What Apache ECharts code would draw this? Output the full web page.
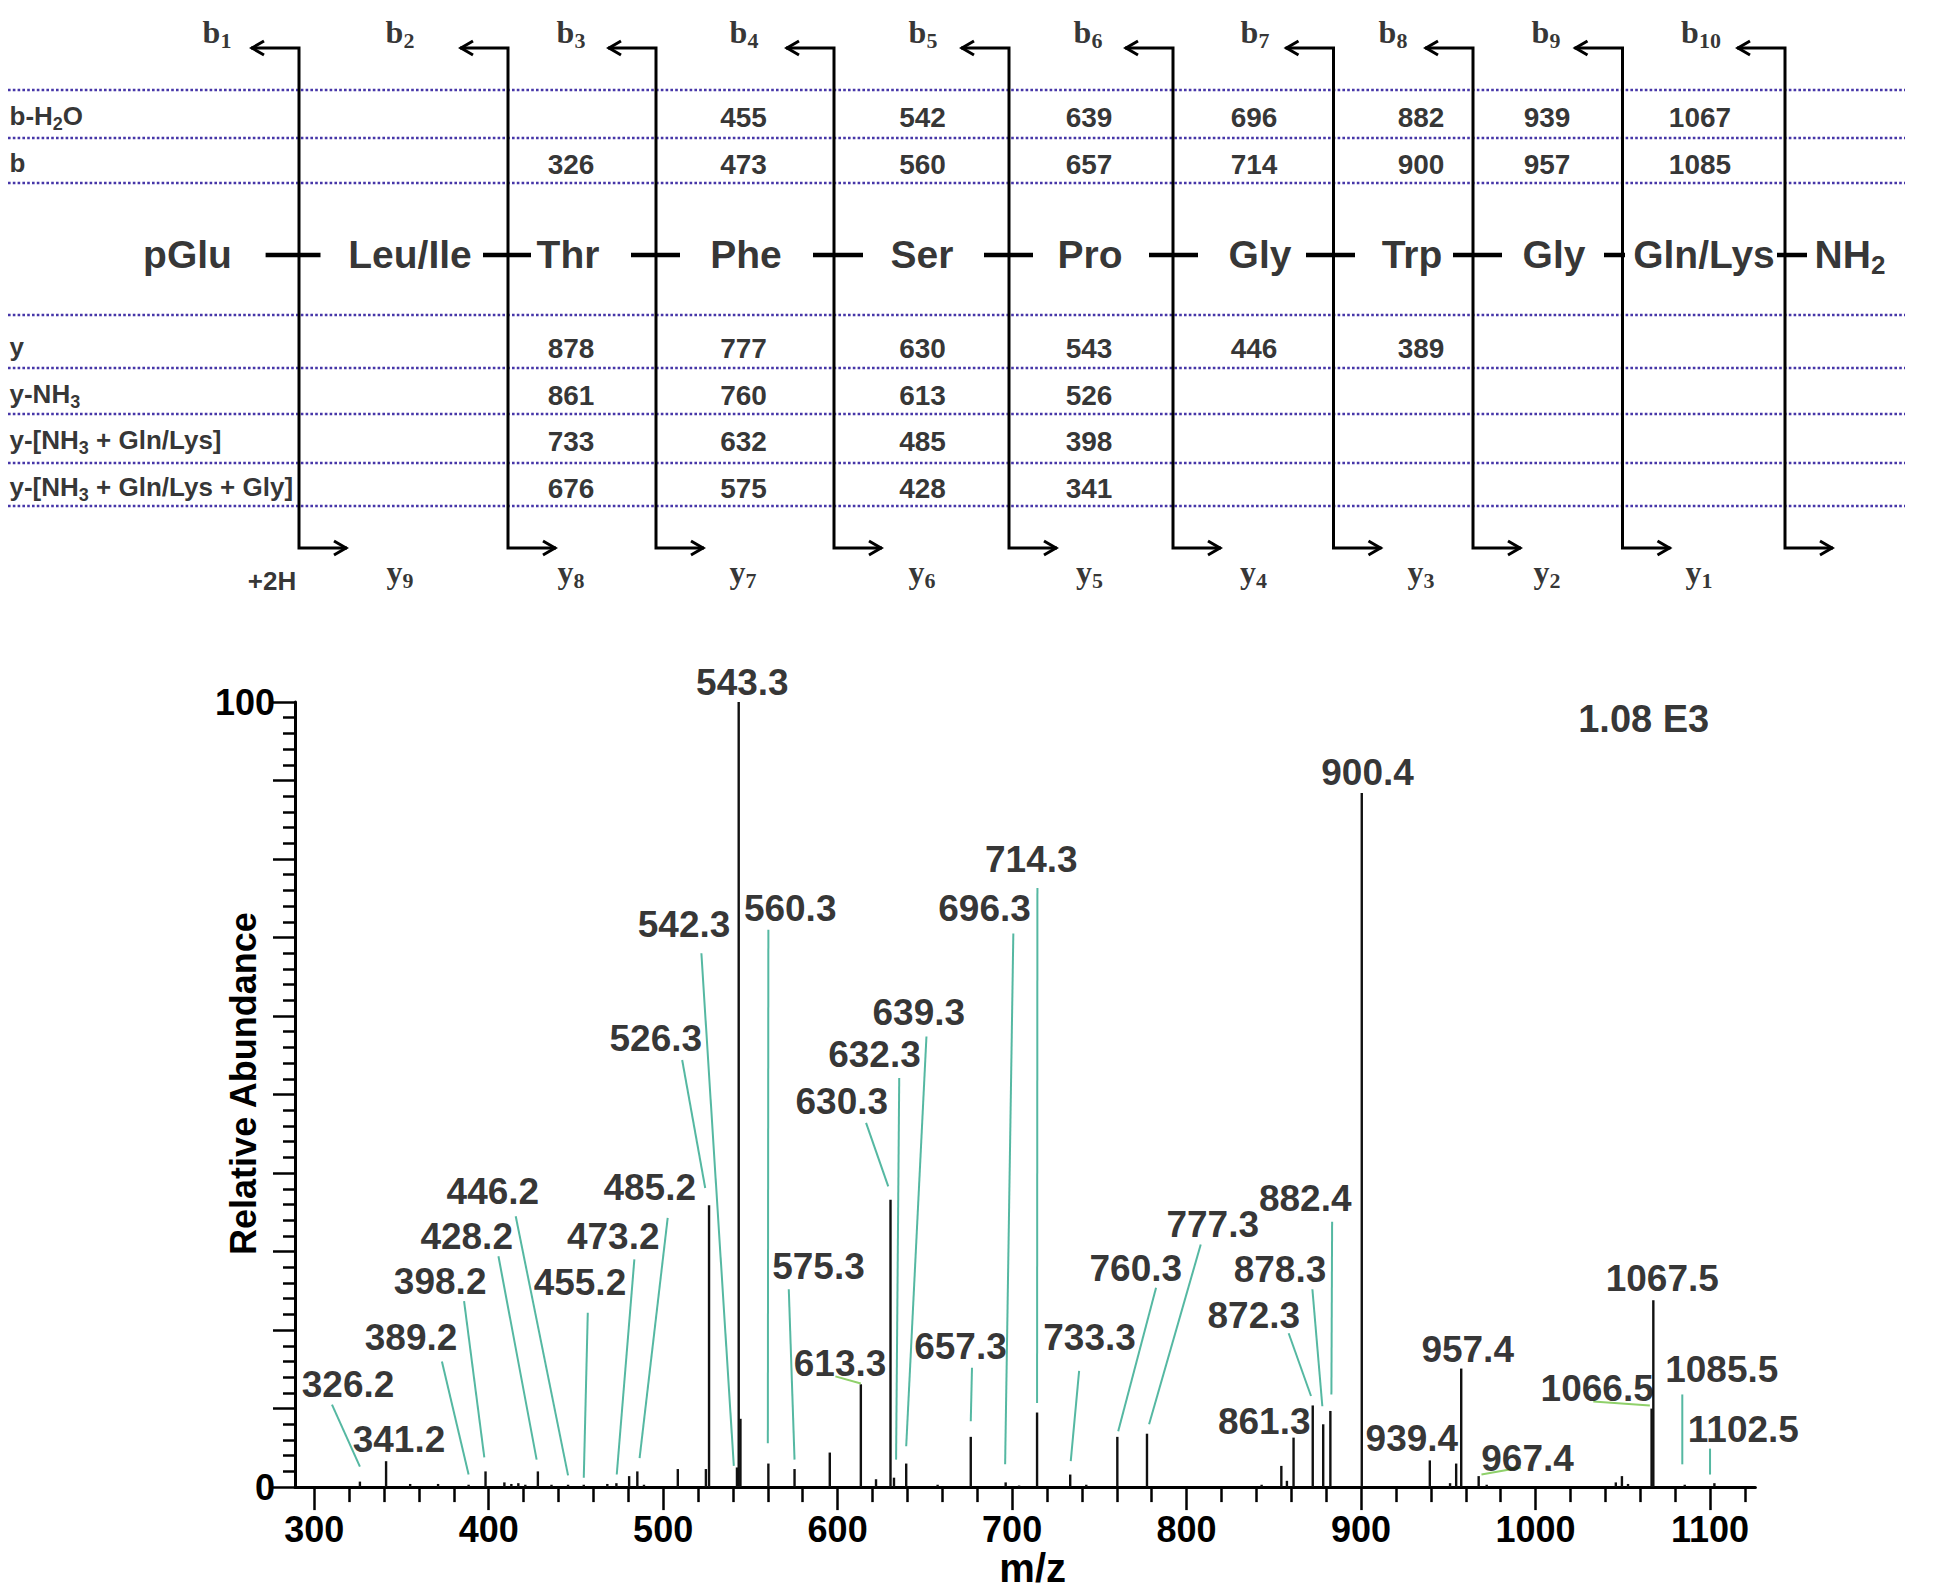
<!DOCTYPE html>
<html><head><meta charset="utf-8">
<script src="https://cdn.jsdelivr.net/npm/echarts@6/dist/echarts.min.js"></script>
<style>html,body{margin:0;padding:0;background:#fff;overflow:hidden}#chart{width:1950px;height:1589px}</style>
</head><body><div id="chart"></div>
<script>
// ================= Spectrum data =================
const peakMz = [326.2, 341.2, 355, 371, 388.5, 398.2, 409, 413, 417, 421, 428.2, 436, 445.5, 454.5, 468, 473.2, 480.5, 485.2, 489, 508.4, 524.5, 526.3, 542.3, 543.3, 544.3, 560.3, 575.3, 595.5, 613.3, 622, 630.3, 632.3, 639.3, 657.3, 676.3, 696.3, 704, 714.3, 733.3, 742.5, 760.3, 777.3, 843, 854.3, 857.5, 861.3, 872.3, 878.3, 882.4, 900.4, 939.4, 951, 954.5, 957.4, 967.4, 972, 1046, 1049.5, 1053, 1066.5, 1067.5, 1085.5, 1102.5];
const peakAb = [0.7, 3.3, 0.4, 0.4, 0.3, 2.0, 0.6, 0.4, 0.5, 0.3, 2.0, 0.3, 0.3, 0.3, 0.4, 0.5, 1.4, 2.0, 0.3, 2.3, 2.3, 35.9, 2.5, 100, 8.7, 3.0, 2.3, 4.4, 13.1, 1.0, 36.6, 1.2, 3.0, 0.3, 6.4, 0.6, 0.2, 9.5, 1.6, 0.3, 6.4, 6.8, 0.3, 2.7, 0.8, 6.3, 10.4, 8.0, 9.7, 88.4, 3.4, 0.5, 3.0, 15.1, 1.4, 0.3, 0.6, 1.4, 0.4, 10.0, 23.8, 0.3, 0.5];

const labelText = ['326.2','341.2','389.2','398.2','428.2','446.2','455.2','473.2','485.2','526.3','542.3','543.3','560.3','575.3','613.3','630.3','632.3','639.3','657.3','696.3','714.3','733.3','760.3','777.3','861.3','872.3','878.3','882.4','900.4','939.4','957.4','967.4','1066.5','1067.5','1085.5','1102.5'];
const labelMz = [319.4, 348.6, 355.5, 372.2, 387.4, 402.4, 452.3, 471.4, 492.3, 495.8, 512.0, 545.4, 572.8, 589.0, 601.4, 602.4, 621.1, 646.5, 670.4, 684.2, 711.0, 744.4, 770.9, 815.0, 844.5, 838.5, 853.5, 868.0, 903.7, 929.1, 961.1, 995.4, 1035.3, 1072.6, 1106.7, 1119.1];
const labelAb = [13.1, 6.1, 19.1, 26.2, 31.9, 37.7, 26.1, 31.9, 38.1, 57.2, 71.6, 102.5, 73.7, 28.1, 15.8, 49.1, 55.1, 60.4, 17.9, 73.7, 79.9, 19.0, 27.9, 33.4, 8.4, 21.8, 27.7, 36.8, 91.0, 6.2, 17.5, 3.7, 12.6, 26.6, 15.0, 7.3];

// leader lines: from (label side) to (peak side); kind 0 = teal, 1 = light green
const leaderFromMz = [310.2, 373.2, 385.9, 405.6, 415.5, 456.8, 483.5, 502.6, 510.9, 521.9, 560.3, 572.0, 598.7, 616.3, 635.3, 650.9, 677.0, 700.7, 714.5, 738.4, 782.5, 808.1, 858.5, 872.1, 883.4, 969.0, 1033.1, 1084.1, 1100.0];
const leaderFromAb = [10.5, 16.0, 23.7, 29.4, 34.5, 22.2, 29.0, 34.3, 54.4, 68.0, 71.0, 25.2, 14.1, 46.4, 52.1, 57.4, 15.2, 70.5, 76.3, 14.8, 25.4, 30.9, 19.6, 25.2, 33.8, 1.6, 10.9, 11.8, 4.9];
const leaderToMz = [326.2, 388.5, 397.5, 427.5, 445.5, 454.5, 473.4, 486.5, 524.1, 540.5, 560.0, 575.3, 613.3, 629.0, 633.5, 639.3, 676.3, 696.0, 714.3, 733.6, 760.8, 778.5, 871.3, 877.8, 883.0, 991.6, 1065.5, 1084.1, 1100.0];
const leaderToAb = [2.6, 1.6, 3.8, 3.5, 1.5, 1.2, 1.6, 3.7, 38.1, 2.7, 5.6, 3.5, 13.2, 38.3, 3.5, 5.2, 8.4, 2.9, 10.7, 3.3, 7.1, 8.0, 11.6, 10.3, 11.8, 2.5, 10.4, 2.9, 1.6];
const leaderKind = [0,0,0,0,0,0,0,0,0,0,0,0,1,0,0,0,0,0,0,0,0,0,0,0,0,1,1,0,0];

const xMajorTicks = [300, 400, 500, 600, 700, 800, 900, 1000, 1100];
const xMinorTicks = [320,340,360,380,420,440,460,480,520,540,560,580,620,640,660,680,720,740,760,780,820,840,860,880,920,940,960,980,1020,1040,1060,1080,1120];
const yLabelTicks = [0, 100];
const scaleNote = '1.08 E3';
const scaleNotePos = [1062.0, 97.8];

// ================= Fragmentation diagram data =================
const cleaveX = [299, 508, 656, 834, 1009, 1173, 1333.5, 1473, 1622.5, 1785];
const bIndex = ['1','2','3','4','5','6','7','8','9','10'];
const bLabelX = [217, 400, 571, 744, 923, 1088, 1255, 1393, 1546, 1701];
const yIndex = ['9','8','7','6','5','4','3','2','1'];
const yLabelX = [400, 571, 743, 922, 1089.5, 1253.6, 1421, 1547, 1699];
const nTermLabel = '+2H';
const nTermX = 272;

const residues = ['pGlu','Leu/Ile','Thr','Phe','Ser','Pro','Gly','Trp','Gly','Gln/Lys','NH2'];
const residueX = [187.5, 410, 568, 746, 922, 1090, 1260, 1412, 1554, 1704, 1850];
const bondLeft = [265.6, 483, 631, 813, 984, 1149, 1306, 1453, 1604, 1777];
const bondRight = [320.5, 531, 680, 863, 1033, 1198, 1355, 1502, 1625, 1807];

const rowLineY = [90, 138, 183, 315, 368, 414, 463, 506];
const rowNames = [['b-H','2','O'], ['b'], ['y'], ['y-NH','3'], ['y-[NH','3',' + Gln/Lys]'], ['y-[NH','3',' + Gln/Lys + Gly]']];
const rowY = [117, 164, 348, 395, 441, 488];
const colX = [571, 743.5, 922.5, 1089, 1254, 1421, 1547, 1700];
const rowBH2O = [null, 455, 542, 639, 696, 882, 939, 1067];
const rowB = [326, 473, 560, 657, 714, 900, 957, 1085];
const rowY1 = [878, 777, 630, 543, 446, 389, null, null];
const rowYNH3 = [861, 760, 613, 526, null, null, null, null];
const rowYGln = [733, 632, 485, 398, null, null, null, null];
const rowYGlnGly = [676, 575, 428, 341, null, null, null, null];
const tableRows = [rowBH2O, rowB, rowY1, rowYNH3, rowYGln, rowYGlnGly];

// ================= Layout constants (diagram frame units = px) =================
const ARROW_TOP_Y = 48, ARROW_BOT_Y = 548, ARROW_ARM = 48;
const B_LABEL_Y = 30, Y_LABEL_Y = 570, NTERM_Y = 576, RESIDUE_Y = 255, RESIDUE_TEXT_Y = 251;
const LINE_X0 = 8, LINE_X1 = 1905, ROW_LABEL_X = 9, ROW_LABEL_DY = -4;

const SANS = 'Liberation Sans, Arial, Helvetica, sans-serif';
const SERIF = 'Liberation Serif, Times New Roman, serif';
const TEAL = '#55b8a2', LGREEN = '#8fd06a', DOT = '#4636a8';

const chart = echarts.init(document.getElementById('chart'), null, {renderer: 'svg', width: 1950, height: 1589});

function textSeries(xi, yi, items, label) {
  return {
    type: 'scatter', xAxisIndex: xi, yAxisIndex: yi, symbolSize: 1, silent: true, clip: false, z: 10,
    itemStyle: {color: 'rgba(0,0,0,0)'}, emphasis: {disabled: true},
    data: items.map(it => ({value: [it[0], it[1]], name: it[2]})),
    label: Object.assign({show: true, formatter: p => p.name}, label)
  };
}

const subRich = {
  b: {fontFamily: SERIF, fontSize: 32, fontWeight: 'bold', color: '#000', lineHeight: 36, verticalAlign: 'bottom'},
  s: {fontFamily: SERIF, fontSize: 22, fontWeight: 'bold', color: '#000', lineHeight: 16, verticalAlign: 'bottom', padding: [0, 0, -3, 0]},
  h: {fontFamily: SANS, fontSize: 26, fontWeight: 'bold', color: '#000', lineHeight: 36, verticalAlign: 'bottom'}
};

// text items
const bItems = bLabelX.map((x, i) => [x, B_LABEL_Y, '{b|b}{s|' + bIndex[i] + '}']);
const yItems = yLabelX.map((x, i) => [x, Y_LABEL_Y, '{b|y}{s|' + yIndex[i] + '}']);
yItems.push([nTermX, NTERM_Y, '{h|' + nTermLabel + '}']);
const resItems = residues.map((r, i) => [residueX[i], RESIDUE_TEXT_Y, r === 'NH2' ? '{r|NH}{s|2}' : '{r|' + r + '}']);
const rowItems = rowNames.map((parts, i) => [ROW_LABEL_X, rowY[i] + ROW_LABEL_DY, parts.map((p, k) => k === 1 ? '{s|' + p + '}' : '{r|' + p + '}').join('')]);
const numItems = [];
tableRows.forEach((row, ri) => row.forEach((v, ci) => { if (v !== null) numItems.push([colX[ci], rowY[ri], String(v)]); }));
const peakLabelItems = labelText.map((t, i) => [labelMz[i], labelAb[i], t]);

const option = {
  animation: false,
  backgroundColor: '#fff',
  grid: [
    {left: 0, top: 0, width: 1950, height: 600},
    {left: 295, top: 702, width: 1460.4, height: 786}
  ],
  xAxis: [
    {gridIndex: 0, type: 'value', min: 0, max: 1950, show: false},
    {gridIndex: 1, type: 'value', min: 289, max: 1126,
      axisLine: {show: true, onZero: false, lineStyle: {color: '#000', width: 3}},
      axisTick: {show: true, length: 23, lineStyle: {color: '#000', width: 2.5}, customValues: xMajorTicks},
      axisLabel: {show: true, customValues: xMajorTicks, formatter: v => String(v), fontFamily: SANS, fontSize: 36, fontWeight: 'bold', color: '#000', margin: 24},
      splitLine: {show: false},
      name: 'm/z', nameLocation: 'middle', nameGap: 58,
      nameTextStyle: {fontFamily: SANS, fontSize: 40, fontWeight: 'bold', color: '#000', padding: [0, 0, 0, 15]}
    },
    {gridIndex: 1, type: 'value', min: 289, max: 1126, position: 'bottom',
      axisLine: {show: false},
      axisTick: {show: true, length: 15, lineStyle: {color: '#000', width: 2.5}, customValues: xMinorTicks},
      axisLabel: {show: false}, splitLine: {show: false}
    }
  ],
  yAxis: [
    {gridIndex: 0, type: 'value', min: 0, max: 600, inverse: true, show: false},
    {gridIndex: 1, type: 'value', min: 0, max: 100, interval: 10,
      axisLine: {show: true, lineStyle: {color: '#000', width: 3}},
      axisTick: {show: true, length: 22, lineStyle: {color: '#000', width: 2.5}},
      minorTick: {show: true, splitNumber: 5, length: 12, lineStyle: {color: '#000', width: 2.5}},
      splitLine: {show: false}, minorSplitLine: {show: false},
      axisLabel: {formatter: v => (yLabelTicks.indexOf(v) >= 0 ? String(v) : ''), fontFamily: SANS, fontSize: 36, fontWeight: 'bold', color: '#000', margin: 20},
      name: 'Relative Abundance', nameLocation: 'middle', nameRotate: 90, nameGap: 34, nameMoveOverlap: false,
      nameTextStyle: {fontFamily: SANS, fontSize: 36, fontWeight: 'bold', color: '#000', padding: [0, 0, 0, 22]}
    }
  ],
  series: [
    // dotted row separators
    {type: 'custom', xAxisIndex: 0, yAxisIndex: 0, silent: true, z: 1,
      data: rowLineY.map(y => [LINE_X0, y]),
      renderItem: (params, api) => {
        const a = api.coord([LINE_X0, api.value(1)]);
        const b = api.coord([LINE_X1, api.value(1)]);
        return {type: 'line', shape: {x1: a[0], y1: a[1], x2: b[0], y2: b[1]},
          style: {stroke: DOT, lineWidth: 2.6, lineDash: [2.6, 2.2], fill: 'none'}};
      }
    },
    // cleavage arrows
    {type: 'custom', xAxisIndex: 0, yAxisIndex: 0, silent: true, z: 3,
      data: cleaveX.map(x => [x, ARROW_TOP_Y]),
      renderItem: (params, api) => {
        const x = api.value(0);
        const tl = api.coord([x - ARROW_ARM, ARROW_TOP_Y]);
        const t = api.coord([x, ARROW_TOP_Y]);
        const b = api.coord([x, ARROW_BOT_Y]);
        const br = api.coord([x + ARROW_ARM, ARROW_BOT_Y]);
        const hl = 13, hw = 7;
        const st = {stroke: '#000', lineWidth: 3, fill: 'none'};
        return {type: 'group', children: [
          {type: 'polyline', shape: {points: [tl, t, b, br]}, style: st},
          {type: 'polyline', shape: {points: [[tl[0] + hl, tl[1] - hw], [tl[0] + 1, tl[1]], [tl[0] + hl, tl[1] + hw]]}, style: st},
          {type: 'polyline', shape: {points: [[br[0] - hl, br[1] - hw], [br[0] - 1, br[1]], [br[0] - hl, br[1] + hw]]}, style: st}
        ]};
      }
    },
    // peptide bonds
    {type: 'custom', xAxisIndex: 0, yAxisIndex: 0, silent: true, z: 3,
      data: bondLeft.map((l, i) => [l, RESIDUE_Y, bondRight[i]]),
      renderItem: (params, api) => {
        const a = api.coord([api.value(0), RESIDUE_Y]);
        const b = api.coord([api.value(2), RESIDUE_Y]);
        return {type: 'line', shape: {x1: a[0], y1: a[1], x2: b[0], y2: b[1]}, style: {stroke: '#000', lineWidth: 4.5}};
      }
    },
    textSeries(0, 0, bItems, {position: 'inside', rich: subRich}),
    textSeries(0, 0, yItems, {position: 'inside', rich: subRich}),
    textSeries(0, 0, resItems, {position: 'inside', rich: {
      r: {fontFamily: SANS, fontSize: 39, fontWeight: 'bold', color: '#000', lineHeight: 46, verticalAlign: 'bottom'},
      s: {fontFamily: SANS, fontSize: 26, fontWeight: 'bold', color: '#000', lineHeight: 22, verticalAlign: 'bottom', padding: [0, 0, -4, 0]}
    }}),
    textSeries(0, 0, rowItems, {position: 'right', distance: 0, rich: {
      r: {fontFamily: SANS, fontSize: 26, fontWeight: 'bold', color: '#000', lineHeight: 32, verticalAlign: 'bottom'},
      s: {fontFamily: SANS, fontSize: 18, fontWeight: 'bold', color: '#000', lineHeight: 14, verticalAlign: 'bottom', padding: [0, 0, -4, 0]}
    }}),
    textSeries(0, 0, numItems, {position: 'inside', fontFamily: SANS, fontSize: 28, fontWeight: 'bold', color: '#000'}),

    // spectrum peaks
    {type: 'custom', xAxisIndex: 1, yAxisIndex: 1, silent: true, z: 4,
      data: peakMz.map((m, i) => [m, peakAb[i]]),
      renderItem: (params, api) => {
        const p0 = api.coord([api.value(0), 0]);
        const p1 = api.coord([api.value(0), api.value(1)]);
        return {type: 'line', shape: {x1: p0[0], y1: p0[1], x2: p1[0], y2: p1[1]}, style: {stroke: '#111', lineWidth: 2.4}};
      }
    },
    // leader lines
    {type: 'custom', xAxisIndex: 1, yAxisIndex: 1, silent: true, z: 5,
      data: leaderFromMz.map((m, i) => [m, leaderFromAb[i], leaderToMz[i], leaderToAb[i], leaderKind[i]]),
      renderItem: (params, api) => {
        const a = api.coord([api.value(0), api.value(1)]);
        const b = api.coord([api.value(2), api.value(3)]);
        return {type: 'line', shape: {x1: a[0], y1: a[1], x2: b[0], y2: b[1]},
          style: {stroke: api.value(4) === 1 ? LGREEN : TEAL, lineWidth: 2}};
      }
    },
    textSeries(1, 1, peakLabelItems, {position: 'inside', fontFamily: SANS, fontSize: 37, fontWeight: 'bold', color: '#000'}),
    textSeries(1, 1, [[scaleNotePos[0], scaleNotePos[1], scaleNote]], {position: 'inside', fontFamily: SANS, fontSize: 38, fontWeight: 'bold', color: '#000'})
  ]
};
chart.setOption(option);
</script></body></html>
